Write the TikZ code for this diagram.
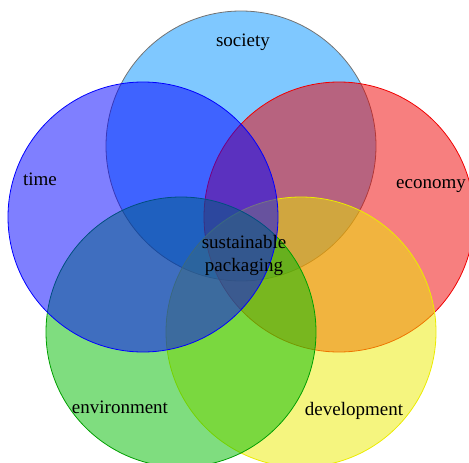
\documentclass[tikz,border=0pt]{standalone}
\usepackage{fontspec}
\setmainfont{Liberation Serif}
\usepackage{tikz}

\definecolor{societyblue}{RGB}{0,145,255}
\definecolor{timeblue}{RGB}{0,0,255}
\definecolor{econred}{RGB}{240,0,0}
\definecolor{envgreen}{RGB}{0,187,0}
\definecolor{devyellow}{RGB}{235,235,0}

\tikzset{
  ring/.style={fill opacity=0.5, line width=0.8pt},
  lbl/.style={draw=none, font=\fontsize{19}{23}\selectfont, align=center}
}

\begin{document}
\begin{tikzpicture}[x=1pt,y=-1pt]
\useasboundingbox (0,0) rectangle (469,463);

% circles, back to front
\draw[ring, fill=societyblue, draw=black!55] (241,146) circle (135);
\draw[ring, fill=econred, draw=econred] (339,217) circle (135);
\draw[ring, fill=devyellow, draw=devyellow] (301,332) circle (135);
\draw[ring, fill=envgreen, draw=envgreen!85!black] (181,332) circle (135);
\draw[ring, fill=timeblue, draw=timeblue] (143,217) circle (135);

\node [lbl] (society) at (243,42) {society};
\node [lbl] (time) at (40,179) {time};
\node [lbl] (economy) at (431,186) {economy};
\node [lbl] (environment) at (120,407) {environment};
\node [lbl] (development) at (354,411) {development};
\node [lbl] (centre) at (244,255) {sustainable\\packaging}; % core

\end{tikzpicture}
\end{document}
